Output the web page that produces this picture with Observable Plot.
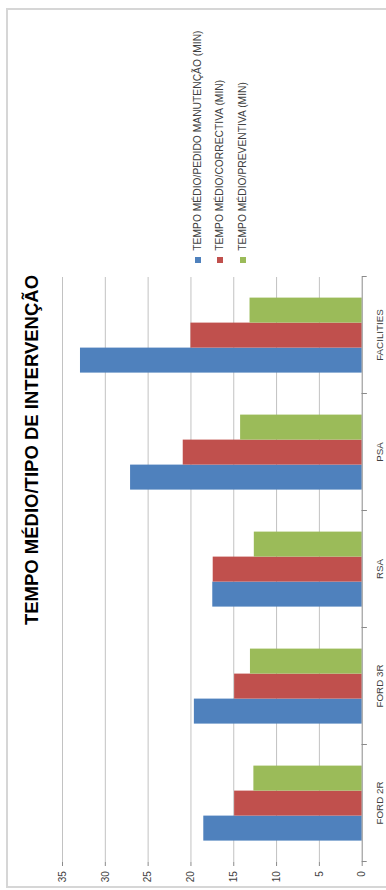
<!DOCTYPE html>
<html>
<head>
<meta charset="utf-8">
<script src="https://cdn.jsdelivr.net/npm/d3@7"></script>
<script src="https://cdn.jsdelivr.net/npm/@observablehq/plot@0.6"></script>
<style>
  html, body { margin: 0; padding: 0; background: #fff; overflow: hidden; width: 386px; height: 890px; }
  #rot {
    position: absolute; left: 0; top: 0; width: 890px; height: 386px;
    transform-origin: 0 0; transform: translate(0, 890px) rotate(-90deg);
    font-family: "Liberation Sans", Arial, sans-serif; background: #fff; overflow: hidden;
  }
  #border { position: absolute; left: 2px; top: 6px; width: 880px; height: 420px; border: 2px solid #d6d6d6; box-sizing: border-box; }
  #title {
    position: absolute; left: -5px; width: 890px; top: 22.6px; text-align: center;
    font-size: 18.5px; line-height: 18.5px; font-weight: bold; color: #000; white-space: nowrap;
  }
  .lg { position: absolute; left: 627px; height: 12px; line-height: 12px; font-size: 10.3px; color: #404040; white-space: nowrap; }
  .lg .sw { position: absolute; left: 0; top: 3px; width: 6px; height: 6px; }
  .lg .tx { position: absolute; left: 12.3px; top: 0; }
  #chart { position: absolute; left: 0; top: 0; }
</style>
</head>
<body>
<div id="rot">
  <div id="border"></div>
  <div id="chart"></div>
  <div id="title"></div>
  <div id="legend"></div>
</div>
<script>
// ---- data ----
const categories = ["FORD 2R", "FORD 3R", "RSA", "PSA", "FACILITIES"];
const seriesNames = [
  "TEMPO MÉDIO/PEDIDO MANUTENÇÃO (MIN)",
  "TEMPO MÉDIO/CORRECTIVA (MIN)",
  "TEMPO MÉDIO/PREVENTIVA (MIN)"
];
const pedidoManutencao = [18.5, 19.6, 17.45, 27.05, 32.9];
const correctiva = [14.9, 14.9, 17.4, 20.9, 20.0];
const preventiva = [12.65, 13.05, 12.6, 14.2, 13.1];
const seriesColors = ["#4F81BD", "#C0504D", "#9BBB59"];
const yTicks = [0, 5, 10, 15, 20, 25, 30, 35];
const titleText = "TEMPO MÉDIO/TIPO DE INTERVENÇÃO";

const seriesValues = [pedidoManutencao, correctiva, preventiva];
const data = [];
categories.forEach((c, i) => {
  seriesNames.forEach((s, j) => data.push({category: c, series: s, value: seriesValues[j][i]}));
});

const marginTop = 62, marginBottom = 24.3, marginLeft = 27.6, marginRight = 276;
const innerH = 386 - marginTop - marginBottom;

const chart = Plot.plot({
  width: 890,
  height: 386,
  marginTop, marginBottom, marginLeft, marginRight,
  style: {fontFamily: "'Liberation Sans', Arial, sans-serif", background: "transparent", color: "#404040"},
  fx: {domain: categories, padding: 0},
  x: {domain: seriesNames, paddingInner: 0, paddingOuter: 0.756, axis: null},
  y: {domain: [0, 35]},
  color: {domain: seriesNames, range: seriesColors},
  marks: [
    Plot.ruleY(yTicks.filter(v => v > 0), {stroke: "#c2c2c2", strokeWidth: 1}),
    Plot.barY(data, {fx: "category", x: "series", y: "value", fill: "series"}),
    Plot.ruleY([0], {stroke: "#8a8a8a", strokeWidth: 1}),
    Plot.frame({anchor: "left", insetTop: innerH, insetBottom: -4, stroke: "#8a8a8a"}),
    Plot.frame({anchor: "right", insetTop: innerH, insetBottom: -4, stroke: "#8a8a8a"}),
    Plot.axisY({ticks: yTicks, tickSize: 4, tickPadding: 5.6, fontSize: 10, label: null, stroke: "#8a8a8a", line: true}),
    Plot.axisFx({anchor: "bottom", tickSize: 0, tickPadding: 14.3, fontSize: 9.8, label: null})
  ]
});
document.getElementById("chart").appendChild(chart);

document.getElementById("title").textContent = titleText;

const legendCenters = [197.5, 220, 242.5];
const legend = document.getElementById("legend");
seriesNames.forEach((s, j) => {
  const row = document.createElement("div");
  row.className = "lg";
  row.style.top = (legendCenters[j] - 6) + "px";
  const sw = document.createElement("span");
  sw.className = "sw";
  sw.style.background = seriesColors[j];
  const tx = document.createElement("span");
  tx.className = "tx";
  tx.textContent = s;
  row.appendChild(sw);
  row.appendChild(tx);
  legend.appendChild(row);
});
</script>
</body>
</html>
